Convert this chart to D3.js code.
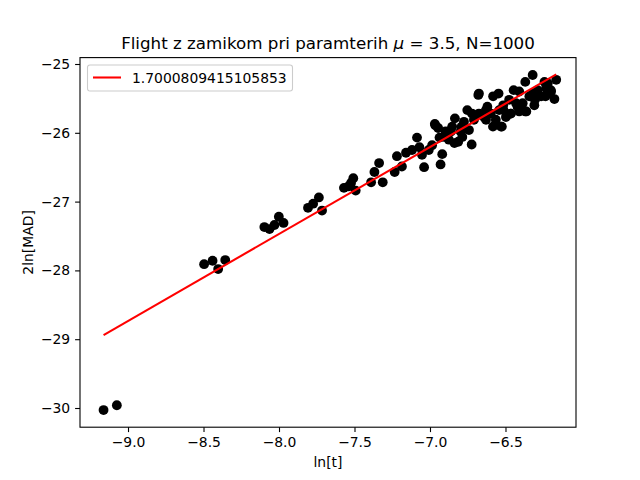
<!DOCTYPE html>
<html>
<head>
<meta charset="utf-8">
<script src="https://cdn.jsdelivr.net/npm/d3@7"></script>
<style>
  body { margin: 0; background: #fff; }
  svg { font-family: "DejaVu Sans", sans-serif; }
</style>
</head>
<body>
<svg id="chart" width="640" height="480"></svg>
<script>
// measured points (ln t, 2 ln MAD)
const xs = [-9.162, -9.074,
  -8.496, -8.440, -8.403, -8.356,
  -8.097, -8.063, -8.030, -8.001, -7.970,
  -7.808, -7.774, -7.736, -7.715,
  -7.570, -7.541, -7.508, -7.523, -7.492,
  -7.390, -7.368, -7.337, -7.313,
  -7.234, -7.219, -7.186, -7.159, -7.119, -7.086, -7.070, -7.053, -7.039, -7.008,
  -6.986, -6.968, -6.946, -6.930, -6.919, -6.937, -6.897, -6.875, -6.853, -6.835,
  -6.813, -6.797, -6.775, -6.753, -6.742, -6.724, -6.709, -6.680, -6.676, -6.642,
  -6.620, -6.597, -6.582, -6.564, -6.546, -6.530, -6.515, -6.497, -6.464, -6.446,
  -6.430, -6.409, -6.386, -6.369, -6.369, -6.342, -6.320, -6.309, -6.287, -6.264,
  -6.242, -6.231, -6.198, -6.176, -6.164, -6.220,
  -6.875, -6.786, -6.630, -6.542, -6.476, -6.220, -6.320, -6.409,
  -6.629, -6.583, -6.524, -6.513, -6.466, -6.420, -6.362, -6.305, -6.235, -6.200,
  -6.676, -6.722, -6.791, -6.861, -6.907, -6.838, -6.965];
const ys = [-30.03, -29.96,
  -27.91, -27.86, -27.98, -27.85,
  -27.37, -27.40, -27.34, -27.22, -27.31,
  -27.09, -27.03, -26.94, -27.13,
  -26.80, -26.78, -26.66, -26.73, -26.84,
  -26.72, -26.57, -26.44, -26.72,
  -26.57, -26.34, -26.49, -26.29, -26.25, -26.07, -26.21, -26.32, -26.50, -26.25,
  -26.18, -25.87, -25.93, -26.46, -26.31, -26.07, -25.98, -26.10, -25.91, -25.79,
  -26.13, -25.98, -25.84, -25.67, -25.96, -26.17, -25.81, -25.45, -25.72, -25.77,
  -25.62, -25.72, -25.47, -25.81, -25.43, -25.91, -25.60, -25.77, -25.72, -25.38,
  -25.57, -25.40, -25.57, -25.69, -25.26, -25.47, -25.16, -25.60, -25.38, -25.47,
  -25.26, -25.35, -25.40, -25.51, -25.23, -25.28,
  -25.98, -26.06, -25.67, -25.67, -25.52, -25.43, -25.43, -25.69,
  -25.81, -25.91, -25.91, -25.67, -25.72, -25.62, -25.69, -25.52, -25.47, -25.38,
  -25.43, -25.72, -25.91, -25.98, -26.06, -26.15, -25.89];

// fitted line endpoints
const fitX = [-9.162, -6.164];
const fitY = [-28.94, -25.15];
const fitLabel = "1.7000809415105853";

const xTicks = [-9.0, -8.5, -8.0, -7.5, -7.0, -6.5];
const yTicks = [-30, -29, -28, -27, -26, -25];

const margin = {left: 80, right: 64, top: 57.6, bottom: 52.8};
const W = 640, H = 480;
const svg = d3.select("#chart");

const x = d3.scaleLinear().domain([-9.318, -6.033]).range([margin.left, W - margin.right]);
const y = d3.scaleLinear().domain([-30.279, -24.907]).range([H - margin.bottom, margin.top]);

const fmt = v => d3.format(".1f")(v).replace("-", "\u2212");
const fmtY = v => d3.format("d")(v).replace("-", "\u2212");

// points
svg.append("g").selectAll("circle")
  .data(xs.map((d, i) => [d, ys[i]]))
  .join("circle")
  .attr("cx", d => x(d[0]))
  .attr("cy", d => y(d[1]))
  .attr("r", 4.9)
  .attr("fill", "#000");

// fit line
svg.append("path")
  .datum(fitX.map((d, i) => [d, fitY[i]]))
  .attr("d", d3.line().x(d => x(d[0])).y(d => y(d[1])))
  .attr("stroke", "red")
  .attr("stroke-width", 2.08)
  .attr("fill", "none");

// axes
const xAxis = svg.append("g")
  .attr("transform", `translate(0,${H - margin.bottom})`)
  .call(d3.axisBottom(x).tickValues(xTicks).tickFormat(fmt).tickSize(4.9).tickPadding(4.9));
const yAxis = svg.append("g")
  .attr("transform", `translate(${margin.left},0)`)
  .call(d3.axisLeft(y).tickValues(yTicks).tickFormat(fmtY).tickSize(4.9).tickPadding(4.9));
[xAxis, yAxis].forEach(g => {
  g.select(".domain").remove();
  g.selectAll("line").attr("stroke", "#000").attr("stroke-width", 1.1);
  g.selectAll("text").attr("font-size", 13.9).attr("fill", "#000")
    .attr("font-family", "DejaVu Sans");
});

// frame
svg.append("rect")
  .attr("x", margin.left).attr("y", margin.top)
  .attr("width", W - margin.left - margin.right)
  .attr("height", H - margin.top - margin.bottom)
  .attr("fill", "none").attr("stroke", "#000").attr("stroke-width", 1.1);

// labels
svg.append("text")
  .attr("x", (margin.left + W - margin.right) / 2).attr("y", 467)
  .attr("text-anchor", "middle").attr("font-size", 13.9).text("ln[t]");
svg.append("text")
  .attr("transform", `translate(33,${(margin.top + H - margin.bottom) / 2}) rotate(-90)`)
  .attr("text-anchor", "middle").attr("font-size", 13.9).text("2ln[MAD]");

const title = svg.append("text")
  .attr("x", (margin.left + W - margin.right) / 2).attr("y", 49)
  .attr("text-anchor", "middle").attr("font-size", 16.7);
title.append("tspan").text("Flight z zamikom pri paramterih ");
title.append("tspan").attr("font-style", "italic").text("\u03bc");
title.append("tspan").text(" = 3.5, N=1000");

// legend
const lg = svg.append("g").attr("transform", "translate(87.5,65)");
lg.append("rect")
  .attr("width", 205).attr("height", 26).attr("rx", 2.5)
  .attr("fill", "#fff").attr("fill-opacity", 0.8)
  .attr("stroke", "#ccc").attr("stroke-width", 1.1);
lg.append("line")
  .attr("x1", 5.5).attr("x2", 33.5).attr("y1", 12.5).attr("y2", 12.5)
  .attr("stroke", "red").attr("stroke-width", 2.08);
lg.append("text")
  .attr("x", 44.5).attr("y", 17.5).attr("font-size", 13.9).text(fitLabel);
</script>
</body>
</html>
